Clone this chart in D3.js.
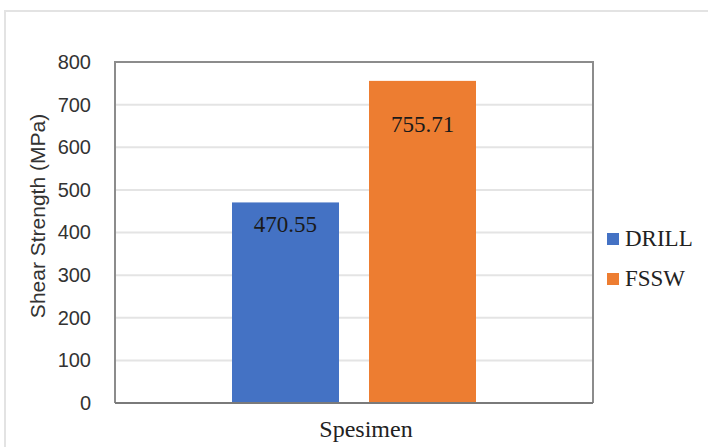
<!DOCTYPE html>
<html><head><meta charset="utf-8">
<script src="https://cdn.jsdelivr.net/npm/d3@7"></script>
<style>body{margin:0;background:#fff}svg{display:block}</style>
</head><body>
<svg id="c" width="708" height="447"></svg>
<script>
const categories = ["Spesimen"];
const seriesNames = ["DRILL", "FSSW"];
const drillValues = [470.55];
const fsswValues = [755.71];
const yTicks = [0, 100, 200, 300, 400, 500, 600, 700, 800];
const xTitle = "Spesimen";
const yTitle = "Shear Strength (MPa)";

const colors = ["#4472C4", "#ED7D31"];
const labelDy = [30, 51];
const svg = d3.select("#c");
const m = {l:115, t:62, r:593, b:403};

svg.append("rect").attr("x",5).attr("y",11).attr("width",720).attr("height",460)
  .attr("fill","#fff").attr("stroke","#e3e3e3").attr("stroke-width",2);

const y = d3.scaleLinear().domain([0,800]).range([m.b, m.t]);
const x0 = d3.scaleBand().domain(categories).range([m.l, m.r]);
const x1 = d3.scaleBand().domain(seriesNames).range([232, 476]).paddingInner(0.219);

// gridlines
svg.append("g").selectAll("line").data(yTicks.filter(d=>d>0 && d<800)).join("line")
  .attr("x1",m.l).attr("x2",m.r).attr("y1",d=>y(d)).attr("y2",d=>y(d))
  .attr("stroke","#e4e4e4").attr("stroke-width",2);

const vals = [drillValues, fsswValues];
const data = seriesNames.map((s,i)=>({s, v: vals[i][0], c: colors[i], dy: labelDy[i]}));

svg.append("g").selectAll("rect").data(data).join("rect")
  .attr("x",d=>x1(d.s)).attr("width",x1.bandwidth())
  .attr("y",d=>y(d.v)).attr("height",d=>y(0)-y(d.v)).attr("fill",d=>d.c);

svg.append("g").selectAll("text").data(data).join("text")
  .attr("x",d=>x1(d.s)+x1.bandwidth()/2).attr("y",d=>y(d.v)+d.dy)
  .attr("text-anchor","middle").attr("font-family","Liberation Serif").attr("font-size",23)
  .attr("fill","#1a1a1a").text(d=>d.v.toFixed(2));

// plot border
svg.append("path").attr("d",`M${m.l},${m.b}V${m.t}H${m.r}V${m.b}`).attr("fill","none")
  .attr("stroke","#8c8c8c").attr("stroke-width",2);
svg.append("line").attr("x1",m.l).attr("x2",m.r).attr("y1",m.b).attr("y2",m.b)
  .attr("stroke","#7a7a7a").attr("stroke-width",2);

// y axis
const yAxis = d3.axisLeft(y).tickValues(yTicks).tickSize(0).tickPadding(0);
const ga = svg.append("g").attr("transform",`translate(91,0)`).call(yAxis);
ga.select(".domain").remove();
ga.selectAll("text").attr("font-family","Liberation Sans").attr("font-size",20).attr("fill","#333");

svg.append("text").attr("transform",`translate(45,216) rotate(-90)`).attr("text-anchor","middle")
  .attr("font-family","Liberation Sans").attr("font-size",21).attr("fill","#333").text(yTitle);
svg.append("text").attr("x",366).attr("y",437).attr("text-anchor","middle")
  .attr("font-family","Liberation Serif").attr("font-size",24).attr("fill","#222").text(xTitle);

// legend
const lg = svg.append("g").selectAll("g").data(data).join("g")
  .attr("transform",(d,i)=>`translate(607,${233+i*40})`);
lg.append("rect").attr("width",12).attr("height",12).attr("fill",d=>d.c);
lg.append("text").attr("x",18).attr("y",13).attr("font-family","Liberation Serif")
  .attr("font-size",23).attr("fill","#222").text(d=>d.s);
</script>
</body></html>
